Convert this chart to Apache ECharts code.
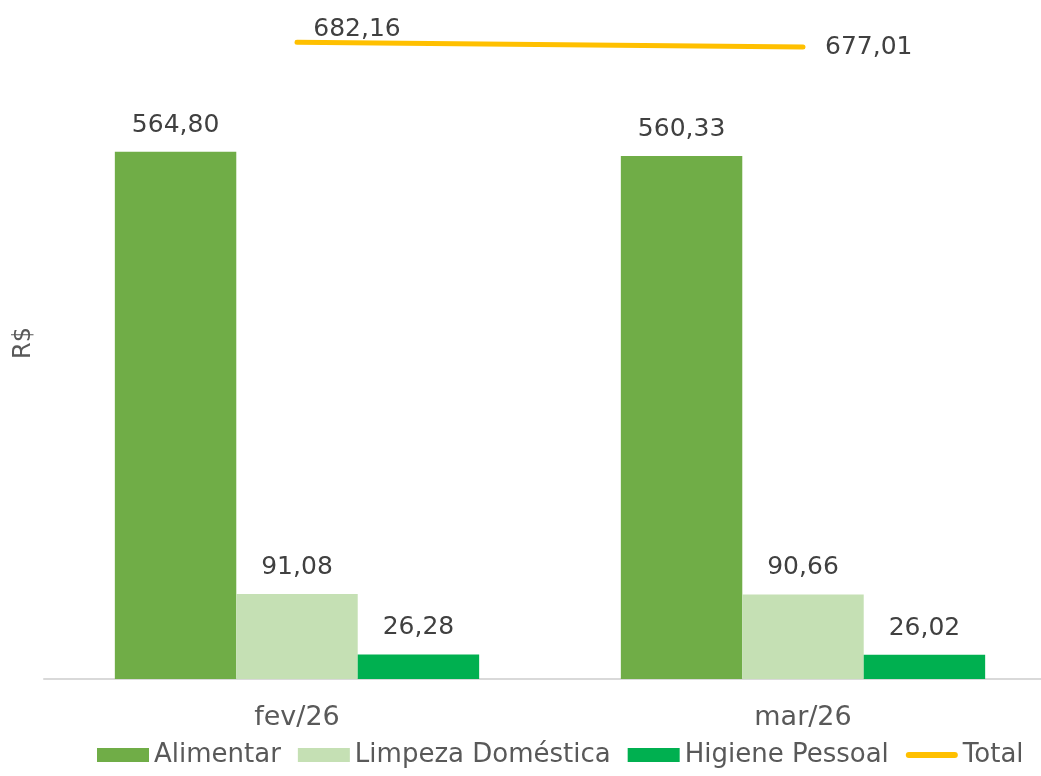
<!DOCTYPE html>
<html>
<head>
<meta charset="utf-8">
<script src="https://cdn.jsdelivr.net/npm/echarts@6/dist/echarts.min.js"></script>
<style>
  html, body { margin: 0; padding: 0; background: #fff; }
  #main { width: 1041px; height: 776px; }
</style>
</head>
<body>
<div id="main"></div>
<script>
var months = ['fev/26', 'mar/26'];
var alimentar = [564.80, 560.33];
var limpeza = [91.08, 90.66];
var higiene = [26.28, 26.02];
var total = [682.16, 677.01];

var font = 'DejaVu Sans';
var fmt = function (p) { return p.value.toFixed(2).replace('.', ','); };

var chart = echarts.init(document.getElementById('main'));

var barLabel = {
  show: true,
  position: 'top',
  distance: 14,
  color: '#404040',
  fontFamily: font,
  fontSize: 25,
  formatter: fmt
};

var option = {
  animation: false,
  grid: {
    left: 44,
    width: 1012,
    top: 7,
    bottom: 97,
    outerBoundsMode: 'none'
  },
  legend: {
    left: 92,
    bottom: 3,
    itemWidth: 52,
    itemHeight: 14,
    itemGap: 17,
    textStyle: { color: '#595959', fontFamily: font, fontSize: 26 },
    data: [
      { name: 'Alimentar', icon: 'rect' },
      { name: 'Limpeza Doméstica', icon: 'rect' },
      { name: 'Higiene Pessoal', icon: 'rect' },
      {
        name: 'Total',
        icon: 'path://M3,0 L49,0 A3,3 0 0 1 49,6 L3,6 A3,3 0 0 1 3,0 Z',
        itemStyle: { color: '#FFC000' }
      }
    ]
  },
  xAxis: {
    type: 'category',
    data: months,
    axisLine: { lineStyle: { color: '#d9d9d9', width: 2 } },
    axisTick: { show: false },
    axisLabel: { color: '#595959', fontFamily: font, fontSize: 27, margin: 25 }
  },
  yAxis: {
    type: 'value',
    min: 0,
    max: 720,
    name: 'R$',
    nameLocation: 'middle',
    nameGap: 8,
    nameTextStyle: { color: '#595959', fontFamily: font, fontSize: 24 },
    axisLabel: { show: false },
    axisLine: { show: false },
    axisTick: { show: false },
    splitLine: { show: false }
  },
  series: [
    {
      name: 'Alimentar', type: 'bar', data: alimentar,
      barGap: '0%', barCategoryGap: '28%',
      itemStyle: { color: '#70AD47' }, label: barLabel
    },
    {
      name: 'Limpeza Doméstica', type: 'bar', data: limpeza,
      itemStyle: { color: '#C5E0B4' }, label: barLabel
    },
    {
      name: 'Higiene Pessoal', type: 'bar', data: higiene,
      itemStyle: { color: '#00B050' }, label: barLabel
    },
    {
      name: 'Total', type: 'line',
      data: [
        { value: total[0], label: { position: 'top', offset: [60, 5] } },
        { value: total[1], label: { position: 'right', distance: 22 } }
      ],
      symbol: 'circle',
      symbolSize: 0,
      showSymbol: true,
      lineStyle: { color: '#FFC000', width: 5, cap: 'round' },
      itemStyle: { color: '#FFC000' },
      label: {
        show: true,
        color: '#404040',
        fontFamily: font,
        fontSize: 25,
        formatter: fmt
      }
    }
  ]
};

chart.setOption(option);
</script>
</body>
</html>
